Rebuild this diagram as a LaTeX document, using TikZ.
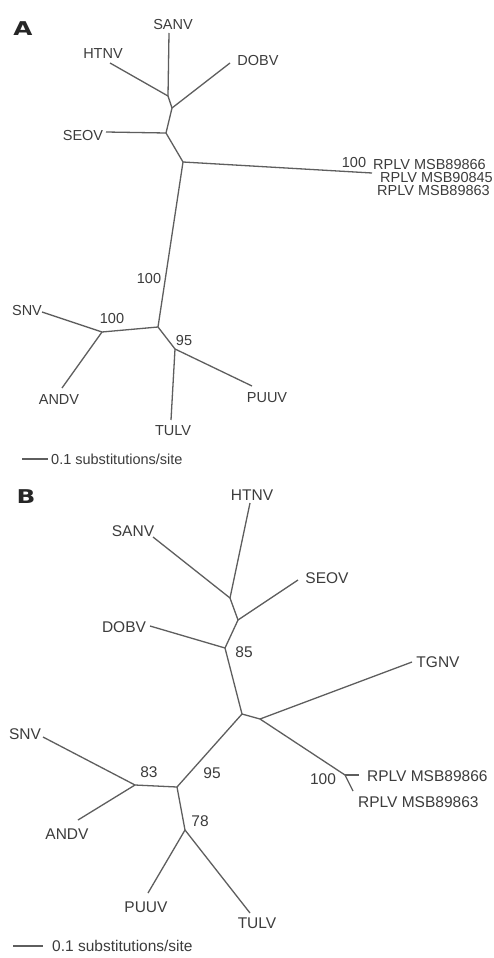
\documentclass[tikz,border=0pt]{standalone}
\usepackage{xcolor}
\usepackage{fontspec}
\setmainfont{Liberation Sans}
\newfontfamily\panelfont{DejaVu Sans}
\usepackage{tikz}
\usetikzlibrary{positioning, calc}

\definecolor{treegray}{HTML}{5E5E5E}
\definecolor{labgray}{HTML}{3C3C3C}

\tikzset{
  branch/.style={draw=treegray, line width=1.3pt},
  leafA/.style={text=labgray, font=\fontsize{14.5}{16}\selectfont, inner sep=0pt},
  leafB/.style={text=labgray, font=\fontsize{15.5}{17}\selectfont, inner sep=0pt},
  panel/.style={text=black!85, font=\panelfont\fontsize{19}{20}\selectfont\bfseries, inner sep=0pt, xscale=1.3}
}

\begin{document}
\begin{tikzpicture}[x=1pt, y=-1pt]
\useasboundingbox[fill=white] (0,0) rectangle (493,958);

% Panel A
\node[panel] (labA) at (23, 29) {A};
\coordinate (a1) at (168, 96);
\coordinate (a2) at (172, 108);
\coordinate (a3) at (166, 133);
\coordinate (a4) at (183, 162);
\coordinate (a5) at (158, 327);
\coordinate (a6) at (102, 332);
\coordinate (a7) at (175, 349);
\coordinate (sanvAt) at (169, 33);
\coordinate (htnvAt) at (110, 63);
\coordinate (dobvAt) at (230, 63);
\coordinate (seovAt) at (106, 132);
\coordinate (rplvAt) at (372, 173);
\coordinate (snvAt) at (42, 312);
\coordinate (andvAt) at (62, 388);
\coordinate (puuvAt) at (252, 386);
\coordinate (tulvAt) at (171, 420);

\foreach \p/\c in {a1/sanvAt, a1/htnvAt, a1/a2, a2/dobvAt, a2/a3, a3/seovAt,
                   a3/a4, a4/rplvAt, a4/a5, a5/a6, a6/snvAt, a6/andvAt,
                   a5/a7, a7/puuvAt, a7/tulvAt} {
    \draw[branch] (\p) -- (\c);
}

\node[leafA] (sanvA) at (173, 25) {SANV};
\node[leafA] (htnvA) at (103, 54) {HTNV};
\node[leafA] (dobvA) at (258, 61) {DOBV};
\node[leafA] (seovA) at (83, 136) {SEOV};
\node[leafA] (snvA) at (27, 311) {SNV};
\node[leafA] (andvA) at (59, 400) {ANDV};
\node[leafA] (puuvA) at (267, 398) {PUUV};
\node[leafA] (tulvA) at (173, 431) {TULV};
\node[leafA, anchor=west] (rplvA1) at (373, 165) {RPLV MSB89866};
\node[leafA, anchor=west] (rplvA2) at (380, 178) {RPLV MSB90845};
\node[leafA, anchor=west] (rplvA3) at (377, 191) {RPLV MSB89863};

\node[leafA] (bootA1) at (354, 163) {100};
\node[leafA] (bootA2) at (149, 279) {100};
\node[leafA] (bootA3) at (112, 319) {100};
\node[leafA] (bootA4) at (184, 341) {95};

% scale bar A
\coordinate (barA1) at (22, 459);
\coordinate (barA2) at (48, 459);
\draw[branch] (barA1) -- (barA2);
\node[leafA, anchor=west] (scaleA) at (51, 459) {0.1 substitutions/site};

% Panel B
\node[panel] (labB) at (26, 497) {B};
\coordinate (b1) at (230, 598);
\coordinate (b2) at (238, 620);
\coordinate (b3) at (225, 648);
\coordinate (b4) at (242, 714);
\coordinate (b5) at (260, 719);
\coordinate (b6) at (177, 787);
\coordinate (b7) at (135, 785);
\coordinate (b8) at (185, 830);
\coordinate (b9) at (345, 775);
\coordinate (htnvBt) at (250, 503);
\coordinate (sanvBt) at (153, 537);
\coordinate (seovBt) at (298, 580);
\coordinate (dobvBt) at (150, 626);
\coordinate (tgnvBt) at (412, 662);
\coordinate (rplvB1t) at (359, 775);
\coordinate (rplvB2t) at (353, 791);
\coordinate (snvBt) at (43, 737);
\coordinate (andvBt) at (78, 820);
\coordinate (puuvBt) at (148, 893);
\coordinate (tulvBt) at (250, 913);

\foreach \p/\c in {b1/htnvBt, b1/sanvBt, b1/b2, b2/seovBt, b2/b3, b3/dobvBt,
                   b3/b4, b4/b5, b5/tgnvBt, b5/b9, b9/rplvB1t, b9/rplvB2t,
                   b4/b6, b6/b7, b7/snvBt, b7/andvBt, b6/b8, b8/puuvBt, b8/tulvBt} {
    \draw[branch] (\p) -- (\c);
}

\node[leafB] (htnvB) at (252, 495) {HTNV};
\node[leafB] (sanvB) at (133, 531) {SANV};
\node[leafB] (seovB) at (327, 578) {SEOV};
\node[leafB] (dobvB) at (124, 627) {DOBV};
\node[leafB] (tgnvB) at (438, 662) {TGNV};
\node[leafB] (snvB) at (25, 734) {SNV};
\node[leafB] (andvB) at (67, 834) {ANDV};
\node[leafB] (puuvB) at (146, 907) {PUUV};
\node[leafB] (tulvB) at (257, 923) {TULV};
\node[leafB, anchor=west] (rplvB1) at (367, 776) {RPLV MSB89866};
\node[leafB, anchor=west] (rplvB2) at (358, 802) {RPLV MSB89863};

\node[leafB] (bootB1) at (244, 652) {85};
\node[leafB] (bootB2) at (212, 773) {95};
\node[leafB] (bootB3) at (149, 772) {83};
\node[leafB] (bootB4) at (200, 821) {78};
\node[leafB] (bootB5) at (323, 779) {100};

% scale bar B
\coordinate (barB1) at (13, 946);
\coordinate (barB2) at (43, 946);
\draw[branch] (barB1) -- (barB2);
\node[leafB, anchor=west] (scaleB) at (52, 946) {0.1 substitutions/site};
\end{tikzpicture}
\end{document}
